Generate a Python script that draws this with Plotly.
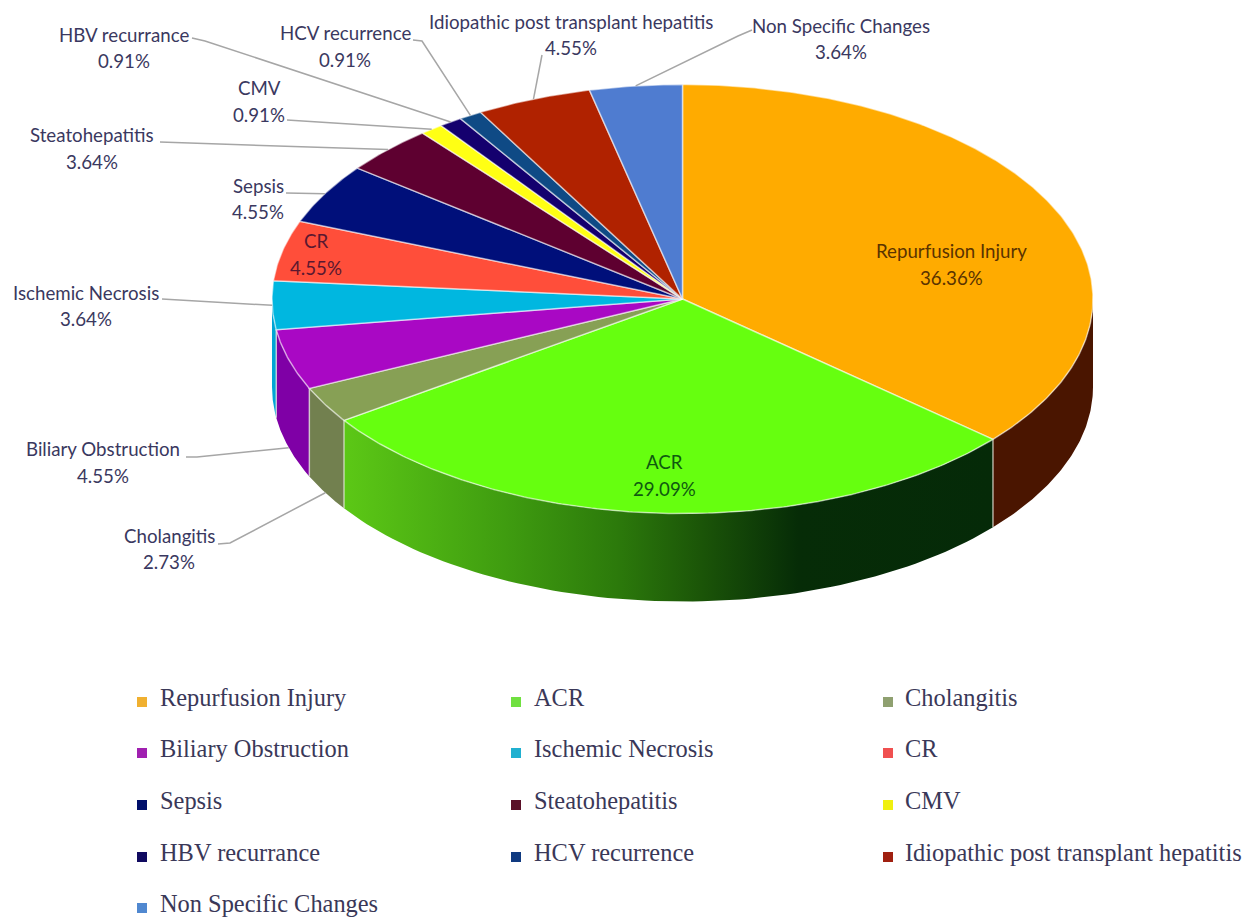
import numpy as np
import plotly.graph_objects as go

# Share of each finding, in percent, clockwise from twelve o'clock
categories = ["Repurfusion Injury", "ACR", "Cholangitis", "Biliary Obstruction",
              "Ischemic Necrosis", "CR", "Sepsis", "Steatohepatitis", "CMV",
              "HBV recurrance", "HCV recurrence",
              "Idiopathic post transplant hepatitis", "Non Specific Changes"]
shares = [36.36, 29.09, 2.73, 4.55, 3.64, 4.55, 4.55, 3.64, 0.91, 0.91, 0.91, 4.55, 3.64]
top_colors = ["#FFAB00", "#66FF0F", "#87A055", "#A908C4", "#00B7E0", "#FF4E3A", "#000F7A",
              "#5E0030", "#FFFF14", "#14006E", "#0F4A85", "#B02200", "#4F7CD0"]
legend_colors = ["#F0B030", "#70E040", "#8FA070", "#A020B0", "#20B0D0", "#F05050", "#000F6A",
                 "#5A1028", "#F0F010", "#100A60", "#103A80", "#A02010", "#5088D0"]
wall_colors = ["#4A1500", None, "#72804F", "#7F00A6", "#00A5D5"]

# Ellipse of the tilted disc and the height of its rim, in page pixels
CX, CY, RX, RY, DEPTH = 682.5, 299, 410.5, 214.5, 88
W, H = 1253, 917
LABEL_FONT = "Lato"
LEGEND_FONT = "Liberation Serif"
LABEL_INK = "#3A3860"

# Label centres: (x, first line y, second line y, ink)
label_places = [
    (951, 251, 278, "#5A3300"), (664, 462, 489, "#0F5A10"), (169, 536, 562, LABEL_INK),
    (103, 449, 476, LABEL_INK), (86, 293, 319, LABEL_INK), (316, 241, 268, "#5A1830"),
    (258, 186, 212, LABEL_INK), (92, 135, 162, LABEL_INK), (259, 88, 115, LABEL_INK),
    (124, 35, 61, LABEL_INK), (345, 33, 60, LABEL_INK), (571, 22, 48, LABEL_INK),
    (841, 26, 52, LABEL_INK),
]
# Start of each leader line; the far end is found from the slice it belongs to
leader_starts = {
    2: [(218, 544), (230, 543)], 3: [(186, 457), (197, 457)], 4: [(162, 299)],
    6: [(286, 193)], 7: [(160, 142)], 8: [(287, 120)], 9: [(192, 38), (205, 41)],
    10: [(413, 40), (422, 41)], 11: [(542, 55)], 12: [(752, 30), (738, 36)],
}
# Leaders that land on the lower edge of the rim instead of the top face
rim_leaders = {2, 3}

legend_columns = [142, 516, 888]
legend_rows = [702, 753, 805, 857, 908]
LEGEND_TEXT_GAP = 16


def ellipse(t_deg, drop=0.0):
    t = np.radians(t_deg)
    return CX + RX * np.sin(t), CY - RY * np.cos(t) + drop


edges = np.concatenate([[0.0], np.cumsum(shares)]) / sum(shares) * 360.0
fig = go.Figure()
EDGE = "rgba(255,255,255,0.55)"

# Rim: only the part of the disc turned towards the viewer (90 to 270 degrees)
for i, wall in enumerate(wall_colors):
    a, b = max(edges[i], 90.0), min(edges[i + 1], 270.0)
    ts = np.linspace(a, b, 80)
    x1, y1 = ellipse(ts)
    x2, y2 = ellipse(ts[::-1], DEPTH)
    trace = dict(x=np.r_[x1, x2, x1[0]], y=np.r_[y1, y2, y1[0]], mode="lines",
                 fill="toself", line=dict(width=0), hoverinfo="skip", showlegend=False)
    if wall is None:
        trace["fillgradient"] = dict(
            type="horizontal", start=float(x1.min()), stop=float(x1.max()),
            colorscale=[[0, "#5CC816"], [0.25, "#3F9C10"], [0.42, "#2C7A0B"],
                        [0.55, "#1B5508"], [0.7, "#062C07"], [1, "#052A08"]])
    else:
        trace["fillcolor"] = wall
    fig.add_trace(go.Scatter(**trace))

# Rim separators
for e in edges[1:5]:
    x, y = ellipse(np.array([e, e]), np.array([0, DEPTH]))
    fig.add_trace(go.Scatter(x=x, y=y, mode="lines", hoverinfo="skip", showlegend=False,
                             line=dict(color="rgba(235,235,225,0.7)", width=1.5)))

# Top face
for i, name in enumerate(categories):
    ts = np.linspace(edges[i], edges[i + 1], max(4, int(edges[i + 1] - edges[i]) * 2))
    x, y = ellipse(ts)
    fig.add_trace(go.Scatter(
        x=np.r_[CX, x, CX], y=np.r_[CY, y, CY], mode="lines", fill="toself",
        fillcolor=top_colors[i], line=dict(color=EDGE, width=1.5), name=name,
        text=f"{name}: {shares[i]:.2f}%", hoverinfo="text", showlegend=False))

# Leader lines
for i, start in leader_starts.items():
    mid = (edges[i] + edges[i + 1]) / 2
    ex, ey = ellipse(mid, DEPTH if i in rim_leaders else 0.0)
    xs = [p[0] for p in start] + [ex]
    ys = [p[1] for p in start] + [ey]
    fig.add_trace(go.Scatter(x=xs, y=ys, mode="lines", hoverinfo="skip", showlegend=False,
                             line=dict(color="#A6A6A6", width=1.5)))

# Slice labels
for i, name in enumerate(categories):
    lx, ly1, ly2, ink = label_places[i]
    for ly, text in ((ly1, name), (ly2, f"{shares[i]:.2f}%")):
        fig.add_annotation(x=lx, y=ly, text=text, showarrow=False, xanchor="center",
                           yanchor="middle", font=dict(family=LABEL_FONT, size=18.7, color=ink))

# Key below the chart
for i, name in enumerate(categories):
    col, row = i % 3, i // 3
    mx, my = legend_columns[col], legend_rows[row]
    fig.add_trace(go.Scatter(x=[mx], y=[my], mode="markers", hoverinfo="skip", showlegend=False,
                             marker=dict(symbol="square", size=10, color=legend_colors[i])))
    fig.add_annotation(x=mx + LEGEND_TEXT_GAP - (0 if col != 2 else 1), y=my - 5, text=name,
                       showarrow=False, xanchor="left", yanchor="middle",
                       font=dict(family=LEGEND_FONT, size=24.4, color="#3A3858"))

fig.update_layout(
    width=W, height=H, margin=dict(l=0, r=0, t=0, b=0),
    paper_bgcolor="white", plot_bgcolor="white", showlegend=False,
    xaxis=dict(range=[0, W], visible=False, fixedrange=True),
    yaxis=dict(range=[H, 0], visible=False, fixedrange=True),
)
fig.write_html("out.html")
